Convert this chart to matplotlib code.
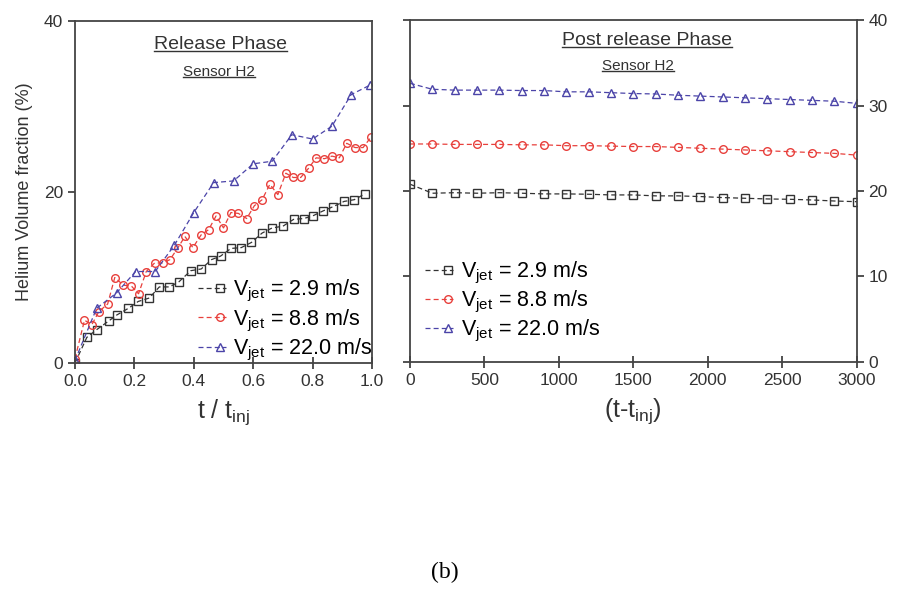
import numpy as np
import matplotlib
matplotlib.use('Agg')
import matplotlib.pyplot as plt
from matplotlib.legend_handler import HandlerLine2D
from matplotlib.lines import Line2D

plt.rcParams['font.family'] = ['Liberation Sans', 'DejaVu Sans']
plt.rcParams['mathtext.fontset'] = 'custom'
plt.rcParams['mathtext.rm'] = 'Liberation Sans'
plt.rcParams['mathtext.it'] = 'Liberation Sans'

# release phase (t / t_inj)
rel_x_29 = [0, .04, .073, .113, .14, .18, .213, .25, .284, .318, .35, .39, .425, .46, .49,
            .525, .56, .594, .63, .664, .7, .736, .77, .8, .836, .87, .906, .94, .977]
rel_y_29 = [0, 3.0, 3.9, 4.9, 5.6, 6.4, 7.2, 7.6, 8.9, 8.9, 9.5, 10.8, 11.0, 12.1, 12.5,
            13.4, 13.5, 14.1, 15.2, 15.8, 16.0, 16.8, 16.9, 17.2, 17.8, 18.3, 18.9, 19.1, 19.8]

rel_x_88 = [0, .032, .057, .08, .11, .134, .163, .19, .214, .24, .268, .296, .32, .347, .37,
            .397, .425, .45, .475, .5, .525, .55, .578, .604, .63, .656, .683, .71, .735, .76,
            .787, .812, .84, .865, .89, .915, .943, .97, .996]
rel_y_88 = [0.5, 5.0, 4.5, 6.0, 6.9, 10.0, 9.1, 9.0, 8.1, 10.7, 11.7, 11.7, 12.1, 13.5, 14.8,
            13.5, 15.0, 15.6, 17.2, 15.8, 17.6, 17.5, 16.9, 18.4, 19.1, 20.9, 19.7, 22.2, 21.7, 21.7,
            22.8, 24.0, 23.9, 24.2, 24.0, 25.7, 25.2, 25.2, 26.4]

rel_x_220 = [0, .073, .14, .204, .27, .335, .4, .467, .534, .6, .664, .73, .8, .865, .93, .993]
rel_y_220 = [0.3, 6.4, 8.2, 10.7, 10.7, 13.8, 17.6, 21.1, 21.3, 23.3, 23.6, 26.7, 26.2, 27.7, 31.4, 32.5]

# post release phase (t - t_inj)
post_x = [0, 150, 300, 450, 600, 750, 900, 1050, 1200, 1350, 1500,
          1650, 1800, 1950, 2100, 2250, 2400, 2550, 2700, 2850, 3000]
post_y_29 = [20.8, 19.74, 19.8, 19.74, 19.8, 19.74, 19.66, 19.66, 19.62, 19.54, 19.54,
             19.43, 19.43, 19.35, 19.23, 19.15, 19.07, 19.03, 18.95, 18.83, 18.75]
post_y_88 = [25.5, 25.5, 25.45, 25.45, 25.45, 25.4, 25.4, 25.3, 25.3, 25.25, 25.2,
             25.2, 25.1, 25.0, 24.9, 24.8, 24.7, 24.6, 24.5, 24.4, 24.2]
post_y_220 = [32.6, 31.9, 31.8, 31.8, 31.8, 31.75, 31.75, 31.6, 31.6, 31.5, 31.4,
              31.35, 31.2, 31.1, 31.0, 30.9, 30.8, 30.7, 30.6, 30.5, 30.25]

labels = [r'V$_{\mathregular{jet}}$ = 2.9 m/s',
          r'V$_{\mathregular{jet}}$ = 8.8 m/s',
          r'V$_{\mathregular{jet}}$ = 22.0 m/s']
colors = ['#333333', '#e8403c', '#4b44a8']
markers = ['s', 'o', '^']


class EndMarker(HandlerLine2D):
    # dashed stub with the marker near its right end
    def create_artists(self, legend, orig_handle, xdescent, ydescent, width, height,
                       fontsize, trans):
        y = (height - ydescent) / 2
        x0 = -xdescent
        line = Line2D([x0, x0 + width], [y, y])
        self.update_prop(line, orig_handle, legend)
        line.set_marker('None')
        mk = Line2D([x0 + 0.82 * width], [y])
        self.update_prop(mk, orig_handle, legend)
        mk.set_linestyle('None')
        line.set_transform(trans)
        mk.set_transform(trans)
        return [line, mk]


def style(ax):
    for s in ax.spines.values():
        s.set_linewidth(1.3)
        s.set_color('#444444')
    ax.tick_params(colors='#333333', labelsize=12.5, width=1.2)
    ax.tick_params(axis='x', direction='inout', length=8, pad=4)
    ax.tick_params(axis='y', direction='out', length=5)


fig = plt.figure(figsize=(8.99, 6.01), dpi=100)
ax1 = fig.add_axes([0.0834, 0.396, 0.3304, 0.569])
ax2 = fig.add_axes([0.456, 0.3977, 0.497, 0.569])

rel = [(rel_x_29, rel_y_29), (rel_x_88, rel_y_88), (rel_x_220, rel_y_220)]
post = [post_y_29, post_y_88, post_y_220]

h1 = []
for (x, y), c, m, lab in zip(rel, colors, markers, labels):
    ln, = ax1.plot(x, y, ls='--', lw=0.9, color=c, marker=m, ms=5.5, mfc='none',
                   mec=c, mew=1.0, label=lab, dashes=(4, 2.5))
    h1.append(ln)
h2 = []
for y, c, m, lab in zip(post, colors, markers, labels):
    ln, = ax2.plot(post_x, y, ls='--', lw=0.9, color=c, marker=m, ms=5.5, mfc='none',
                   mec=c, mew=1.0, label=lab, dashes=(4, 2.5))
    h2.append(ln)

ax1.set_xlim(0, 1)
ax1.set_ylim(0, 40)
ax1.set_xticks([0, 0.2, 0.4, 0.6, 0.8, 1.0])
ax1.set_xticklabels(['0.0', '0.2', '0.4', '0.6', '0.8', '1.0'])
ax1.set_yticks([0, 20, 40])
style(ax1)
ax1.set_ylabel('Helium Volume fraction (%)', fontsize=13, color='#333333', labelpad=8)
ax1.set_xlabel(r't / t$_{\mathregular{inj}}$', fontsize=18, color='#333333', labelpad=6)
titles = []
titles.append(ax1.text(0.49, 0.93, 'Release Phase', transform=ax1.transAxes,
                       ha='center', va='center', fontsize=14, color='#333333'))
titles.append(ax1.text(0.485, 0.85, 'Sensor H2', transform=ax1.transAxes,
                       ha='center', va='center', fontsize=11, color='#333333'))
ax1.legend(handles=h1, loc='lower right', bbox_to_anchor=(1.03, -0.025), frameon=False,
           fontsize=15.5, handler_map={Line2D: EndMarker()}, handlelength=1.3,
           handletextpad=0.35, labelspacing=0.15, borderaxespad=0)

ax2.set_xlim(0, 3000)
ax2.set_ylim(0, 40)
ax2.set_xticks([0, 500, 1000, 1500, 2000, 2500, 3000])
ax2.set_yticks([0, 10, 20, 30, 40])
style(ax2)
ax2.tick_params(axis='y', left=True, right=True, labelleft=False, labelright=True)
ax2.set_xlabel(r'(t-t$_{\mathregular{inj}}$)', fontsize=18, color='#333333', labelpad=6)
titles.append(ax2.text(0.53, 0.94, 'Post release Phase', transform=ax2.transAxes,
                       ha='center', va='center', fontsize=14, color='#333333'))
titles.append(ax2.text(0.51, 0.865, 'Sensor H2', transform=ax2.transAxes,
                       ha='center', va='center', fontsize=11, color='#333333'))
ax2.legend(handles=h2, loc='lower left', bbox_to_anchor=(0.015, 0.026), frameon=False,
           fontsize=15.5, handler_map={Line2D: EndMarker()}, handlelength=1.3,
           handletextpad=0.35, labelspacing=0.15, borderaxespad=0)

fig.text(0.495, 0.03, '(b)', ha='center', va='bottom', fontsize=17,
         family=['Liberation Serif', 'DejaVu Serif'])

# underline the panel titles
fig.canvas.draw()
r = fig.canvas.get_renderer()
inv = fig.transFigure.inverted()
for t in titles:
    bb = t.get_window_extent(r)
    (x0, y0), (x1, y1) = inv.transform([[bb.x0, bb.y0 + 2], [bb.x1, bb.y0 + 2]])
    fig.add_artist(Line2D([x0, x1], [y0, y1], transform=fig.transFigure,
                          color='#333333', lw=1.0))

fig.savefig('out.png', dpi=100)
